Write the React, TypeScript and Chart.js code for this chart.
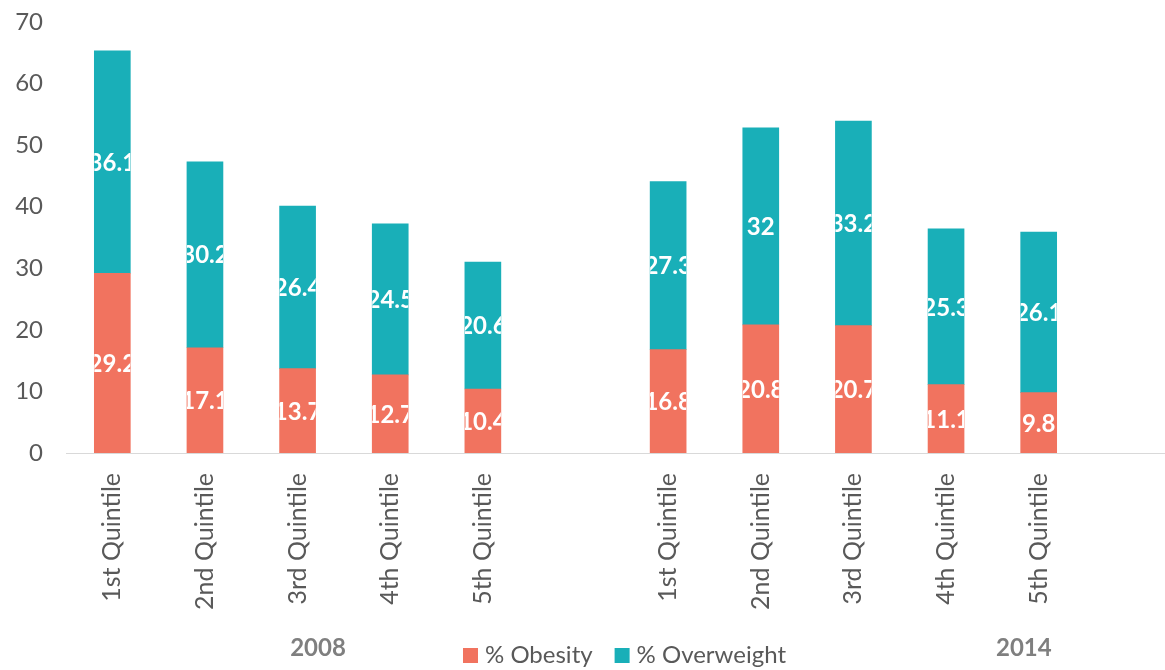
import React, { useEffect, useRef } from "react";
import { Chart, registerables } from "chart.js";

Chart.register(...registerables);

const categories = [
  "1st Quintile", "2nd Quintile", "3rd Quintile", "4th Quintile", "5th Quintile",
  "",
  "1st Quintile", "2nd Quintile", "3rd Quintile", "4th Quintile", "5th Quintile",
];
const obesity = [29.2, 17.1, 13.7, 12.7, 10.4, null, 16.8, 20.8, 20.7, 11.1, 9.8];
const overweight = [36.1, 30.2, 26.4, 24.5, 20.6, null, 27.3, 32, 33.2, 25.3, 26.1];
const seriesNames = ["% Obesity", "% Overweight"];
const groupLabels = ["2008", "2014"];
const groupAnchors = [2.22, 9.84];
const yTicks = [0, 10, 20, 30, 40, 50, 60, 70];

const OBESITY_COLOR = "#F1735F";
const OVERWEIGHT_COLOR = "#19AFB8";
const TEXT_COLOR = "#595959";
const FONT = "Lato, 'Open Sans', sans-serif";

const dataLabelPlugin = {
  id: "dataLabels",
  afterDatasetsDraw(chart: any) {
    const ctx = chart.ctx;
    chart.data.datasets.forEach((ds: any, di: number) => {
      const meta = chart.getDatasetMeta(di);
      meta.data.forEach((bar: any, i: number) => {
        const v = ds.data[i];
        if (v == null) return;
        const { x, y, base, width } = bar.getProps(["x", "y", "base", "width"], true);
        const top = Math.min(y, base);
        const h = Math.abs(base - y);
        ctx.save();
        ctx.beginPath();
        ctx.rect(x - width / 2, top, width, h);
        ctx.clip();
        ctx.fillStyle = "#FFFFFF";
        ctx.font = `bold 24px ${FONT}`;
        ctx.textAlign = "center";
        ctx.textBaseline = "middle";
        ctx.fillText(String(v), x, top + h / 2 + 1);
        ctx.restore();
      });
    });
  },
};

const extrasPlugin = {
  id: "extras",
  afterDraw(chart: any) {
    const ctx = chart.ctx;
    const xs = chart.scales.x;
    const area = chart.chartArea;
    // extend axis line to right edge
    ctx.save();
    ctx.strokeStyle = "#D9D9D9";
    ctx.lineWidth = 1;
    ctx.beginPath();
    ctx.moveTo(area.right - 1, area.bottom + 0.5);
    ctx.lineTo(chart.width, area.bottom + 0.5);
    ctx.stroke();

    // group labels
    const step = xs.getPixelForValue(1) - xs.getPixelForValue(0);
    ctx.fillStyle = "#7F7F7F";
    ctx.font = `bold 24px ${FONT}`;
    ctx.textAlign = "center";
    ctx.textBaseline = "middle";
    groupLabels.forEach((g, k) => {
      const gx = xs.getPixelForValue(0) + groupAnchors[k] * step;
      ctx.fillText(g, gx, 648);
    });

    // legend
    const colors = [OBESITY_COLOR, OVERWEIGHT_COLOR];
    ctx.font = `24px ${FONT}`;
    ctx.textAlign = "left";
    let lx = 463;
    seriesNames.forEach((name, k) => {
      ctx.fillStyle = colors[k];
      ctx.fillRect(lx, 648, 15, 15);
      ctx.fillStyle = TEXT_COLOR;
      ctx.fillText(name, lx + 22, 655);
      lx += 22 + ctx.measureText(name).width + 22;
    });
    ctx.restore();
  },
};

export default function App() {
  const ref = useRef<HTMLCanvasElement>(null);
  useEffect(() => {
    if (!ref.current) return;
    const chart = new Chart(ref.current, {
      type: "bar",
      data: {
        labels: categories,
        datasets: [
          {
            label: seriesNames[0],
            data: obesity,
            backgroundColor: OBESITY_COLOR,
            barThickness: 36,
          },
          {
            label: seriesNames[1],
            data: overweight,
            backgroundColor: OVERWEIGHT_COLOR,
            barThickness: 36,
          },
        ],
      },
      options: {
        responsive: false,
        animation: false,
        layout: { padding: { top: 22, bottom: 60, right: 80, left: 0 } },
        plugins: {
          legend: { display: false },
          tooltip: { enabled: false },
        },
        scales: {
          x: {
            stacked: true,
            grid: { display: true, drawOnChartArea: false, drawTicks: false, color: "rgba(0,0,0,0)" },
            border: { display: true, color: "#D9D9D9", width: 1 },
            ticks: {
              autoSkip: false,
              maxRotation: 90,
              minRotation: 90,
              padding: 20,
              color: TEXT_COLOR,
              font: { family: FONT, size: 25 },
            },
            afterFit: (s: any) => {
              s.height = 157;
            },
          },
          y: {
            stacked: true,
            min: 0,
            max: 70,
            grid: { display: false, drawTicks: false },
            border: { display: false },
            afterBuildTicks: (s: any) => {
              s.ticks = yTicks.map((v) => ({ value: v }));
            },
            ticks: {
              padding: 23,
              color: TEXT_COLOR,
              font: { family: FONT, size: 24 },
            },
            afterFit: (s: any) => {
              s.width = 66;
              s.paddingTop = 0;
              s.paddingBottom = 0;
            },
          },
        },
      },
      plugins: [dataLabelPlugin, extrasPlugin],
    });
    return () => chart.destroy();
  }, []);
  return (
    <div style={{ position: "absolute", left: 0, top: 0, width: 1165, height: 670, background: "#FFFFFF" }}>
      <canvas ref={ref} width={1165} height={670} />
    </div>
  );
}
